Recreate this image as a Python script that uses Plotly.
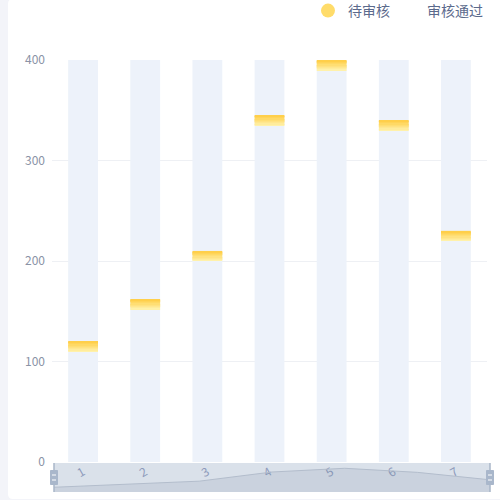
import plotly.graph_objects as go

# chart data
categories = ["1", "2", "3", "4", "5", "6", "7"]
pending = [120, 162, 210, 345, 400, 340, 230]   # 待审核
approved = [None] * 7                           # 审核通过 (legend only, no visible marks)
y_ticks = [0, 100, 200, 300, 400]

YMAX = 400
CAP = 10          # height of the yellow cap drawn at the top of each value
N_SLICES = 8      # slices used to fake the vertical gradient

# page geometry (px)
W_FIG, H_FIG = 500, 500
L, R, T, B = 52, 10, 60, 8
PW, PH = W_FIG - L - R, H_FIG - T - B


def px_x(px):
    return (px - L) / PW


def px_y(py):
    return 1 - (py - T) / PH


def mix(c1, c2, t):
    return "rgb(%d,%d,%d)" % tuple(round(a + (b - a) * t) for a, b in zip(c1, c2))


light, dark = (255, 241, 170), (255, 207, 74)

fig = go.Figure()

# light blue background bars
fig.add_trace(go.Bar(
    x=categories, y=[YMAX] * len(categories), width=0.48,
    marker=dict(color="#edf2fa", line_width=0),
    hoverinfo="skip", showlegend=False,
))

# yellow caps, sliced to look like a gradient
for i in range(N_SLICES):
    fig.add_trace(go.Bar(
        x=categories,
        y=[CAP / N_SLICES] * len(pending),
        base=[v - CAP + CAP * i / N_SLICES for v in pending],
        width=0.48,
        marker=dict(color=mix(light, dark, i / (N_SLICES - 1)), line_width=0),
        hoverinfo="skip", showlegend=False,
    ))

# legend entries (two legends so the spacing can match)
fig.add_trace(go.Scatter(
    x=[None], y=[None], mode="markers", name="待审核", legend="legend",
    marker=dict(symbol="circle", size=14, color="#ffdc6a"),
))
fig.add_trace(go.Scatter(
    x=[None], y=approved[:1], mode="markers", name="审核通过", legend="legend2",
    marker=dict(symbol="circle", size=14, color="rgba(0,0,0,0)"),
))

# data-zoom style shadow under the axis
fig.add_trace(go.Scatter(
    x=list(range(len(pending))), y=pending,
    xaxis="x2", yaxis="y2", mode="lines",
    line=dict(color="#b3bdcc", width=1),
    fill="tozeroy", fillcolor="rgba(120,135,160,0.16)",
    hoverinfo="skip", showlegend=False,
))

card = "M {a},{b} Q {a},{t} {c},{t} L {r},{t} L {r},{bt} L {c},{bt} Q {a},{bt} {a},{d} Z".format(
    a=px_x(8), c=px_x(13), r=px_x(W_FIG + 10),
    t=px_y(-1), b=px_y(4), d=px_y(494), bt=px_y(499),
)

shapes = [
    # page background band + white card
    dict(type="rect", xref="paper", yref="paper", layer="below",
         x0=px_x(0), x1=px_x(W_FIG), y0=px_y(H_FIG), y1=px_y(0),
         fillcolor="#f3f4f9", line_width=0),
    dict(type="path", xref="paper", yref="paper", layer="below",
         path=card, fillcolor="white", line_width=0),
    # slider background
    dict(type="rect", xref="x2 domain", yref="y2 domain", layer="below",
         x0=0, x1=1, y0=0, y1=1,
         fillcolor="rgba(167,183,204,0.42)", line_width=0),
]
for xd in (0, 1):
    shapes.append(dict(type="line", xref="x2 domain", yref="y2 domain",
                       x0=xd, x1=xd, y0=0, y1=1,
                       line=dict(color="#a9b6c9", width=1.5)))
    shapes.append(dict(type="rect", xref="x2 domain", yref="y2 domain",
                       xsizemode="pixel", xanchor=xd, x0=-3.5, x1=3.5,
                       ysizemode="pixel", yanchor=0.5, y0=-7, y1=7,
                       fillcolor="#a9b7cb", line=dict(color="#a9b7cb", width=1)))
    for dy in (-2.5, 2.5):
        shapes.append(dict(type="line", xref="x2 domain", yref="y2 domain",
                           xsizemode="pixel", xanchor=xd, x0=-2, x1=2,
                           ysizemode="pixel", yanchor=0.5, y0=dy, y1=dy,
                           line=dict(color="white", width=1)))

legend_style = dict(
    orientation="h", xanchor="right", y=px_y(11), yanchor="middle",
    font=dict(size=14, color="#5b6a8c"),
    bgcolor="rgba(0,0,0,0)", itemsizing="trace",
)

fig.update_layout(
    width=W_FIG, height=H_FIG,
    margin=dict(l=L, r=R, t=T, b=B, autoexpand=False),
    barmode="overlay",
    paper_bgcolor="white",
    plot_bgcolor="rgba(0,0,0,0)",
    font=dict(family="Noto Sans CJK SC, sans-serif", size=12, color="#8a93a6"),
    shapes=shapes,
    legend=dict(legend_style, x=px_x(395)),
    legend2=dict(legend_style, x=px_x(488)),
    xaxis=dict(
        domain=[0, px_x(487)], anchor="y", automargin=False,
        type="category", showgrid=False, showline=False, zeroline=False,
        ticks="", tickangle=-30,
        tickfont=dict(size=12, color="#8d9abb"),
    ),
    yaxis=dict(
        domain=[px_y(462), 1], anchor="x", automargin=False,
        range=[0, YMAX], tickvals=y_ticks,
        showgrid=True, gridcolor="#eef0f4", gridwidth=1,
        zeroline=False, showline=False, ticks="",
        ticklabelstandoff=6,
        tickfont=dict(size=12, color="#8a93a6"),
    ),
    xaxis2=dict(
        domain=[px_x(54), px_x(490)], anchor="y2",
        range=[0, len(pending) - 1], visible=False, fixedrange=True,
    ),
    yaxis2=dict(
        domain=[px_y(492), px_y(463)], anchor="x2",
        range=[50, 478], visible=False, fixedrange=True,
    ),
)

fig.write_html("out.html", config={"displayModeBar": False},
               post_script="document.body.style.margin='0';")
